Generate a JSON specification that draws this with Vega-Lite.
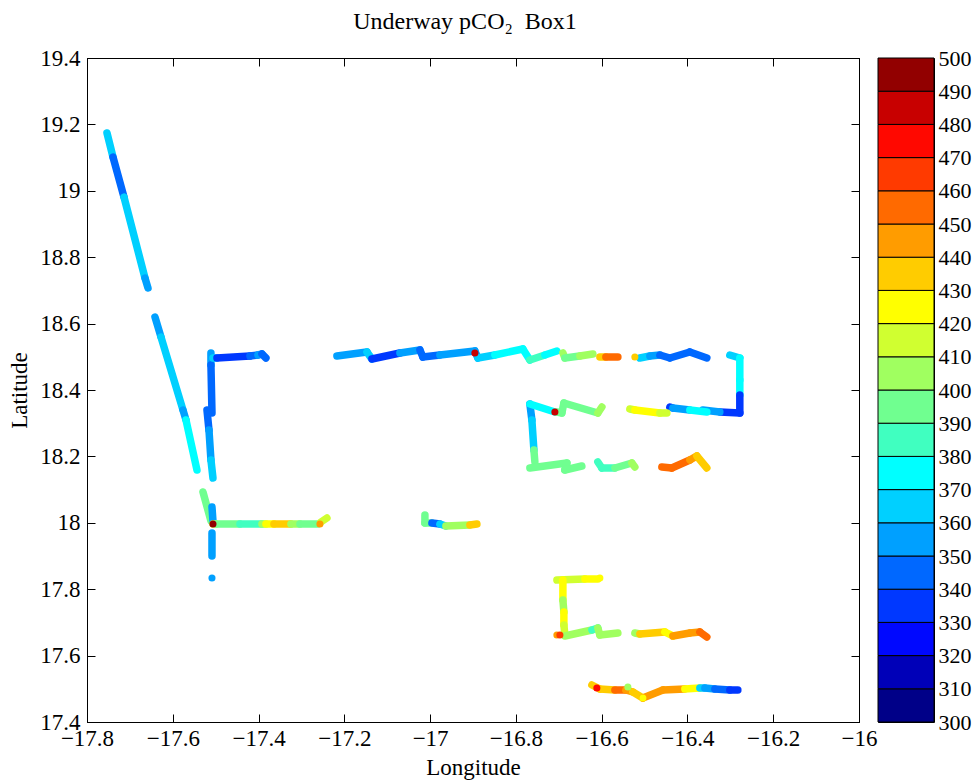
{
"$schema": "https://vega.github.io/schema/vega-lite/v6.json",
"padding": {"left": 8, "top": 9, "right": 0, "bottom": 0},
"background": "white",
"spacing": -2,
"config": {
 "view": {"stroke": "black", "strokeWidth": 1},
 "font": "Liberation Serif",
 "axis": {"domainColor": "black", "domainWidth": 1, "tickColor": "black", "tickWidth": 1, "labelFont": "Liberation Serif", "titleFont": "Liberation Serif", "labelFontSize": 23, "titleFontSize": 23, "labelColor": "black", "titleColor": "black", "titleFontWeight": "normal", "grid": false, "labelFlush": false, "labelOverlap": false}
},
"datasets": {
 "segs": [
  {"lon":-17.7534,"lat":19.1741,"lon2":-17.7394,"lat2":19.1018,"pco2":365},
  {"lon":-17.7394,"lat":19.1018,"lon2":-17.7138,"lat2":18.9813,"pco2":345},
  {"lon":-17.7138,"lat":18.9813,"lon2":-17.6648,"lat2":18.7374,"pco2":365},
  {"lon":-17.6648,"lat":18.7374,"lon2":-17.6578,"lat2":18.7072,"pco2":355},
  {"lon":-17.6415,"lat":18.6199,"lon2":-17.6275,"lat2":18.5597,"pco2":355},
  {"lon":-17.6275,"lat":18.5597,"lon2":-17.5762,"lat2":18.3398,"pco2":365},
  {"lon":-17.5762,"lat":18.3398,"lon2":-17.5692,"lat2":18.3097,"pco2":355},
  {"lon":-17.5692,"lat":18.3097,"lon2":-17.5436,"lat2":18.1591,"pco2":375},
  {"lon":-17.5296,"lat":18.0928,"lon2":-17.5110,"lat2":18.0054,"pco2":395},
  {"lon":-17.5110,"lat":18.5115,"lon2":-17.5110,"lat2":18.4753,"pco2":355},
  {"lon":-17.5110,"lat":18.4753,"lon2":-17.5086,"lat2":18.3307,"pco2":342},
  {"lon":-17.5203,"lat":18.3398,"lon2":-17.5156,"lat2":18.2795,"pco2":342},
  {"lon":-17.5156,"lat":18.2795,"lon2":-17.5110,"lat2":18.1892,"pco2":355},
  {"lon":-17.5110,"lat":18.1892,"lon2":-17.5063,"lat2":18.1350,"pco2":365},
  {"lon":-17.5086,"lat":18.0476,"lon2":-17.5063,"lat2":18.0054,"pco2":355},
  {"lon":-17.5086,"lat":17.9693,"lon2":-17.5086,"lat2":17.9000,"pco2":355},
  {"lon":-17.5063,"lat":18.4964,"lon2":-17.4970,"lat2":18.4964,"pco2":365},
  {"lon":-17.4970,"lat":18.4964,"lon2":-17.4200,"lat2":18.5024,"pco2":335},
  {"lon":-17.4200,"lat":18.5024,"lon2":-17.4014,"lat2":18.5054,"pco2":345},
  {"lon":-17.4014,"lat":18.5054,"lon2":-17.3921,"lat2":18.5084,"pco2":355},
  {"lon":-17.3921,"lat":18.5084,"lon2":-17.3828,"lat2":18.4964,"pco2":345},
  {"lon":-17.5063,"lat":17.9964,"lon2":-17.4993,"lat2":17.9964,"pco2":415},
  {"lon":-17.4993,"lat":17.9964,"lon2":-17.4434,"lat2":17.9964,"pco2":395},
  {"lon":-17.4434,"lat":17.9964,"lon2":-17.3921,"lat2":17.9964,"pco2":385},
  {"lon":-17.3921,"lat":17.9964,"lon2":-17.3828,"lat2":17.9964,"pco2":405},
  {"lon":-17.3828,"lat":17.9964,"lon2":-17.3641,"lat2":17.9964,"pco2":425},
  {"lon":-17.3641,"lat":17.9964,"lon2":-17.3245,"lat2":17.9964,"pco2":435},
  {"lon":-17.3245,"lat":17.9964,"lon2":-17.3035,"lat2":17.9964,"pco2":405},
  {"lon":-17.3035,"lat":17.9964,"lon2":-17.2615,"lat2":17.9964,"pco2":395},
  {"lon":-17.2545,"lat":18.0024,"lon2":-17.2406,"lat2":18.0145,"pco2":415},
  {"lon":-17.2173,"lat":18.5024,"lon2":-17.1473,"lat2":18.5145,"pco2":355},
  {"lon":-17.1473,"lat":18.5145,"lon2":-17.1357,"lat2":18.4934,"pco2":365},
  {"lon":-17.1357,"lat":18.4934,"lon2":-17.0704,"lat2":18.5115,"pco2":338},
  {"lon":-17.0704,"lat":18.5115,"lon2":-17.0238,"lat2":18.5205,"pco2":350},
  {"lon":-17.0238,"lat":18.5205,"lon2":-17.0168,"lat2":18.4994,"pco2":345},
  {"lon":-17.0168,"lat":18.4994,"lon2":-16.9772,"lat2":18.5054,"pco2":345},
  {"lon":-16.9772,"lat":18.5054,"lon2":-16.8956,"lat2":18.5175,"pco2":355},
  {"lon":-16.8956,"lat":18.5175,"lon2":-16.8886,"lat2":18.4964,"pco2":355},
  {"lon":-16.8886,"lat":18.4964,"lon2":-16.8490,"lat2":18.5054,"pco2":365},
  {"lon":-16.8490,"lat":18.5054,"lon2":-16.7837,"lat2":18.5235,"pco2":375},
  {"lon":-16.7837,"lat":18.5235,"lon2":-16.7674,"lat2":18.4904,"pco2":375},
  {"lon":-16.7674,"lat":18.4904,"lon2":-16.7324,"lat2":18.5054,"pco2":383},
  {"lon":-16.7324,"lat":18.5054,"lon2":-16.7044,"lat2":18.5175,"pco2":378},
  {"lon":-16.6904,"lat":18.5115,"lon2":-16.6858,"lat2":18.4964,"pco2":405},
  {"lon":-16.6858,"lat":18.4964,"lon2":-16.6508,"lat2":18.5024,"pco2":395},
  {"lon":-16.6508,"lat":18.5024,"lon2":-16.6205,"lat2":18.5084,"pco2":405},
  {"lon":-16.6042,"lat":18.4994,"lon2":-16.5902,"lat2":18.4994,"pco2":435},
  {"lon":-16.5902,"lat":18.4994,"lon2":-16.5622,"lat2":18.4994,"pco2":458},
  {"lon":-16.5110,"lat":18.4964,"lon2":-16.4876,"lat2":18.5024,"pco2":365},
  {"lon":-16.4876,"lat":18.5024,"lon2":-16.4643,"lat2":18.5054,"pco2":355},
  {"lon":-16.4643,"lat":18.5054,"lon2":-16.4410,"lat2":18.4964,"pco2":345},
  {"lon":-16.4410,"lat":18.4964,"lon2":-16.3944,"lat2":18.5145,"pco2":342},
  {"lon":-16.3944,"lat":18.5145,"lon2":-16.3548,"lat2":18.4964,"pco2":345},
  {"lon":-16.3012,"lat":18.5054,"lon2":-16.2779,"lat2":18.4964,"pco2":365},
  {"lon":-16.2779,"lat":18.4964,"lon2":-16.2779,"lat2":18.4301,"pco2":370},
  {"lon":-16.2779,"lat":18.4301,"lon2":-16.2779,"lat2":18.3850,"pco2":375},
  {"lon":-16.2779,"lat":18.3850,"lon2":-16.2779,"lat2":18.3307,"pco2":338},
  {"lon":-16.2779,"lat":18.3307,"lon2":-16.3245,"lat2":18.3338,"pco2":335},
  {"lon":-16.3245,"lat":18.3338,"lon2":-16.3641,"lat2":18.3398,"pco2":350},
  {"lon":-16.4410,"lat":18.3488,"lon2":-16.4340,"lat2":18.3458,"pco2":335},
  {"lon":-16.4340,"lat":18.3458,"lon2":-16.3944,"lat2":18.3398,"pco2":350},
  {"lon":-16.3944,"lat":18.3398,"lon2":-16.3548,"lat2":18.3338,"pco2":372},
  {"lon":-16.5343,"lat":18.3428,"lon2":-16.5226,"lat2":18.3398,"pco2":415},
  {"lon":-16.5226,"lat":18.3398,"lon2":-16.4643,"lat2":18.3307,"pco2":425},
  {"lon":-16.4643,"lat":18.3307,"lon2":-16.4480,"lat2":18.3307,"pco2":415},
  {"lon":-16.7674,"lat":18.3578,"lon2":-16.7627,"lat2":18.3097,"pco2":355},
  {"lon":-16.7627,"lat":18.3097,"lon2":-16.7580,"lat2":18.2193,"pco2":365},
  {"lon":-16.7580,"lat":18.2193,"lon2":-16.7557,"lat2":18.1832,"pco2":395},
  {"lon":-16.7674,"lat":18.3578,"lon2":-16.7091,"lat2":18.3338,"pco2":375},
  {"lon":-16.7044,"lat":18.3338,"lon2":-16.6928,"lat2":18.3307,"pco2":395},
  {"lon":-16.6928,"lat":18.3307,"lon2":-16.6881,"lat2":18.3609,"pco2":395},
  {"lon":-16.6881,"lat":18.3609,"lon2":-16.6089,"lat2":18.3307,"pco2":395},
  {"lon":-16.6089,"lat":18.3307,"lon2":-16.5995,"lat2":18.3488,"pco2":405},
  {"lon":-16.7674,"lat":18.1651,"lon2":-16.6811,"lat2":18.1801,"pco2":398},
  {"lon":-16.6811,"lat":18.1801,"lon2":-16.6858,"lat2":18.1591,"pco2":398},
  {"lon":-16.6858,"lat":18.1591,"lon2":-16.6462,"lat2":18.1711,"pco2":398},
  {"lon":-16.6089,"lat":18.1832,"lon2":-16.5995,"lat2":18.1651,"pco2":385},
  {"lon":-16.5995,"lat":18.1651,"lon2":-16.5692,"lat2":18.1651,"pco2":385},
  {"lon":-16.5692,"lat":18.1651,"lon2":-16.5296,"lat2":18.1801,"pco2":395},
  {"lon":-16.5296,"lat":18.1801,"lon2":-16.5226,"lat2":18.1681,"pco2":405},
  {"lon":-16.4597,"lat":18.1681,"lon2":-16.4364,"lat2":18.1651,"pco2":455},
  {"lon":-16.4364,"lat":18.1651,"lon2":-16.3944,"lat2":18.1892,"pco2":458},
  {"lon":-16.3944,"lat":18.1892,"lon2":-16.3781,"lat2":18.2012,"pco2":445},
  {"lon":-16.3781,"lat":18.2012,"lon2":-16.3548,"lat2":18.1651,"pco2":435},
  {"lon":-16.7044,"lat":17.8277,"lon2":-16.6392,"lat2":17.8307,"pco2":415},
  {"lon":-16.6392,"lat":17.8307,"lon2":-16.6089,"lat2":17.8307,"pco2":425},
  {"lon":-16.6904,"lat":17.8277,"lon2":-16.6904,"lat2":17.7675,"pco2":425},
  {"lon":-16.6904,"lat":17.7675,"lon2":-16.6881,"lat2":17.7314,"pco2":405},
  {"lon":-16.6881,"lat":17.7314,"lon2":-16.6881,"lat2":17.6922,"pco2":425},
  {"lon":-16.6881,"lat":17.6922,"lon2":-16.6858,"lat2":17.6621,"pco2":415},
  {"lon":-16.6858,"lat":17.6591,"lon2":-16.6228,"lat2":17.6771,"pco2":405},
  {"lon":-16.6228,"lat":17.6771,"lon2":-16.6089,"lat2":17.6832,"pco2":385},
  {"lon":-16.6089,"lat":17.6832,"lon2":-16.6042,"lat2":17.6621,"pco2":400},
  {"lon":-16.6042,"lat":17.6621,"lon2":-16.5622,"lat2":17.6681,"pco2":405},
  {"lon":-16.5226,"lat":17.6681,"lon2":-16.5110,"lat2":17.6651,"pco2":405},
  {"lon":-16.5110,"lat":17.6651,"lon2":-16.4527,"lat2":17.6711,"pco2":435},
  {"lon":-16.4527,"lat":17.6711,"lon2":-16.4340,"lat2":17.6591,"pco2":425},
  {"lon":-16.4340,"lat":17.6591,"lon2":-16.3944,"lat2":17.6681,"pco2":440},
  {"lon":-16.3944,"lat":17.6681,"lon2":-16.3711,"lat2":17.6711,"pco2":448},
  {"lon":-16.3711,"lat":17.6711,"lon2":-16.3548,"lat2":17.6561,"pco2":455},
  {"lon":-16.6228,"lat":17.5115,"lon2":-16.6042,"lat2":17.4994,"pco2":435},
  {"lon":-16.6042,"lat":17.4994,"lon2":-16.5692,"lat2":17.4964,"pco2":435},
  {"lon":-16.5692,"lat":17.4964,"lon2":-16.5436,"lat2":17.4964,"pco2":452},
  {"lon":-16.5436,"lat":17.4964,"lon2":-16.5273,"lat2":17.4904,"pco2":445},
  {"lon":-16.5273,"lat":17.4904,"lon2":-16.5040,"lat2":17.4723,"pco2":435},
  {"lon":-16.5040,"lat":17.4723,"lon2":-16.4573,"lat2":17.4964,"pco2":442},
  {"lon":-16.4573,"lat":17.4964,"lon2":-16.4061,"lat2":17.4994,"pco2":440},
  {"lon":-16.4061,"lat":17.4994,"lon2":-16.3711,"lat2":17.5024,"pco2":428},
  {"lon":-16.3711,"lat":17.5024,"lon2":-16.3594,"lat2":17.5024,"pco2":365},
  {"lon":-16.3594,"lat":17.5024,"lon2":-16.3361,"lat2":17.4994,"pco2":355},
  {"lon":-16.3361,"lat":17.4994,"lon2":-16.3012,"lat2":17.4964,"pco2":345},
  {"lon":-16.3012,"lat":17.4964,"lon2":-16.2825,"lat2":17.4964,"pco2":335},
  {"lon":-17.0121,"lat":18.0235,"lon2":-17.0121,"lat2":17.9994,"pco2":395},
  {"lon":-17.0121,"lat":17.9994,"lon2":-16.9958,"lat2":17.9994,"pco2":395},
  {"lon":-16.9958,"lat":17.9994,"lon2":-16.9772,"lat2":17.9964,"pco2":345},
  {"lon":-16.9772,"lat":17.9964,"lon2":-16.9632,"lat2":17.9904,"pco2":365},
  {"lon":-16.9632,"lat":17.9904,"lon2":-16.9072,"lat2":17.9934,"pco2":405},
  {"lon":-16.9072,"lat":17.9934,"lon2":-16.8909,"lat2":17.9964,"pco2":435}
 ],
 "dots": [
  {"lon":-17.5086,"lat":17.8338,"pco2":355},
  {"lon":-17.5063,"lat":17.9964,"pco2":495},
  {"lon":-17.2569,"lat":17.9964,"pco2":445},
  {"lon":-16.8956,"lat":18.5115,"pco2":485},
  {"lon":-16.5226,"lat":18.4994,"pco2":435},
  {"lon":-16.7091,"lat":18.3338,"pco2":485},
  {"lon":-16.6042,"lat":17.8338,"pco2":425},
  {"lon":-16.7044,"lat":17.6621,"pco2":445},
  {"lon":-16.6974,"lat":17.6621,"pco2":465},
  {"lon":-16.6112,"lat":17.5024,"pco2":475},
  {"lon":-16.5389,"lat":17.5055,"pco2":405},
  {"lon":-16.5040,"lat":17.4723,"pco2":425}
 ],
 "bar": [
  {"lo":300,"hi":310,"pco2":305},{"lo":310,"hi":320,"pco2":315},{"lo":320,"hi":330,"pco2":325},{"lo":330,"hi":340,"pco2":335},
  {"lo":340,"hi":350,"pco2":345},{"lo":350,"hi":360,"pco2":355},{"lo":360,"hi":370,"pco2":365},{"lo":370,"hi":380,"pco2":375},
  {"lo":380,"hi":390,"pco2":385},{"lo":390,"hi":400,"pco2":395},{"lo":400,"hi":410,"pco2":405},{"lo":410,"hi":420,"pco2":415},
  {"lo":420,"hi":430,"pco2":425},{"lo":430,"hi":440,"pco2":435},{"lo":440,"hi":450,"pco2":445},{"lo":450,"hi":460,"pco2":455},
  {"lo":460,"hi":470,"pco2":465},{"lo":470,"hi":480,"pco2":475},{"lo":480,"hi":490,"pco2":485},{"lo":490,"hi":500,"pco2":495}
 ]
},
"hconcat": [
 {
  "width": 772, "height": 664,
  "title": {"text": "Underway pCO₂\u00a0 Box1", "fontSize": 24, "font": "Liberation Serif", "fontWeight": "normal", "color": "black", "baseline": "bottom", "offset": -11, "dx": -8, "anchor": "middle"},
  "layer": [
   {
    "data": {"name": "segs"},
    "mark": {"type": "rule", "strokeWidth": 7.5, "strokeCap": "round"},
    "encoding": {
     "x": {"field": "lon", "type": "quantitative", "scale": {"domain": [-17.8, -16], "nice": false, "zero": false},
       "axis": {"orient": "bottom", "values": [-17.8,-17.6,-17.4,-17.2,-17,-16.8,-16.6,-16.4,-16.2,-16], "format": "~g", "tickSize": -8, "labelPadding": 13, "labelDx": -8, "title": "Longitude", "titlePadding": 6}},
     "x2": {"field": "lon2"},
     "y": {"field": "lat", "type": "quantitative", "scale": {"domain": [17.4, 19.4], "nice": false, "zero": false},
       "axis": {"orient": "left", "values": [17.4,17.6,17.8,18,18.2,18.4,18.6,18.8,19,19.2,19.4], "format": "~g", "tickSize": -8, "labelPadding": 15, "title": "Latitude", "titlePadding": 8}},
     "y2": {"field": "lat2"},
     "color": {"field": "pco2", "type": "quantitative",
       "scale": {"type": "quantize", "domain": [300, 500], "range": ["#000088","#0000B8","#0008FF","#0038FF","#0068FF","#00A0FF","#00D0FF","#00FFFF","#40FFC0","#70FF90","#A0FF60","#D0FF30","#FFFF00","#FFCC00","#FF9C00","#FF6A00","#FF3A00","#FF0800","#C80000","#920000"]},
       "legend": null}
    }
   },
   {
    "data": {"name": "dots"},
    "mark": {"type": "circle", "size": 50, "opacity": 1},
    "encoding": {
     "x": {"field": "lon", "type": "quantitative", "axis": {"orient": "top", "values": [-17.8,-17.6,-17.4,-17.2,-17,-16.8,-16.6,-16.4,-16.2,-16], "labels": false, "tickSize": -8, "title": null, "minExtent": 0, "maxExtent": 0}},
     "y": {"field": "lat", "type": "quantitative", "axis": {"orient": "right", "values": [17.4,17.6,17.8,18,18.2,18.4,18.6,18.8,19,19.2,19.4], "labels": false, "tickSize": -8, "title": null, "minExtent": 0, "maxExtent": 0}},
     "color": {"field": "pco2", "type": "quantitative",
       "scale": {"type": "quantize", "domain": [300, 500], "range": ["#000088","#0000B8","#0008FF","#0038FF","#0068FF","#00A0FF","#00D0FF","#00FFFF","#40FFC0","#70FF90","#A0FF60","#D0FF30","#FFFF00","#FFCC00","#FF9C00","#FF6A00","#FF3A00","#FF0800","#C80000","#920000"]},
       "legend": null}
    }
   }
  ],
  "resolve": {"axis": {"x": "independent", "y": "independent"}}
 },
 {
  "width": 56, "height": 664,
  "data": {"name": "bar"},
  "mark": {"type": "rect", "stroke": "black", "strokeWidth": 1},
  "encoding": {
   "x": {"datum": 0, "type": "quantitative", "scale": {"domain": [0, 1], "nice": false, "zero": false}, "axis": null},
   "x2": {"datum": 1},
   "y": {"field": "lo", "type": "quantitative", "scale": {"domain": [300, 500], "nice": false, "zero": false},
     "axis": {"orient": "right", "values": [300,310,320,330,340,350,360,370,380,390,400,410,420,430,440,450,460,470,480,490,500], "format": "d", "ticks": false, "domain": false, "labelPadding": 4, "labelFontSize": 22, "title": null, "minExtent": 0}},
   "y2": {"field": "hi"},
   "color": {"field": "pco2", "type": "quantitative",
     "scale": {"type": "quantize", "domain": [300, 500], "range": ["#000088","#0000B8","#0008FF","#0038FF","#0068FF","#00A0FF","#00D0FF","#00FFFF","#40FFC0","#70FF90","#A0FF60","#D0FF30","#FFFF00","#FFCC00","#FF9C00","#FF6A00","#FF3A00","#FF0800","#C80000","#920000"]},
     "legend": null}
  }
 }
]
}
